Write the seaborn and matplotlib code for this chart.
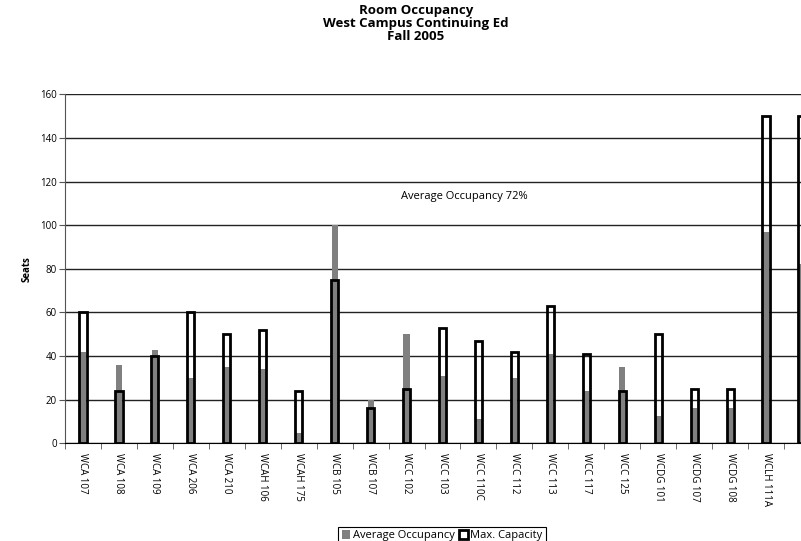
import matplotlib
matplotlib.use("Agg")
import matplotlib.pyplot as plt
import matplotlib.patches as mpatches
import numpy as np
import pandas as pd
import seaborn as sns

rooms = ["WCA 107", "WCA 108", "WCA 109", "WCA 206", "WCA 210", "WCAH 106", "WCAH 175",
         "WCB 105", "WCB 107", "WCC 102", "WCC 103", "WCC 110C", "WCC 112", "WCC 113",
         "WCC 117", "WCC 125", "WCDG 101", "WCDG 107", "WCDG 108", "WCLH 111A", "WCLH 111B"]
avg_occupancy = [42, 36, 43, 30, 35, 34, 4.5, 100, 20, 50, 31, 11, 30, 41, 24, 35, 12.5, 16, 16, 97, 82]
max_capacity = [60, 24, 40, 60, 50, 52, 24, 75, 16, 25, 53, 47, 42, 63, 41, 24, 50, 25, 25, 150, 150]

plt.rcParams["font.family"] = ["Open Sans", "DejaVu Sans"]

df = pd.DataFrame({"Room": rooms,
                   "Average Occupancy": avg_occupancy,
                   "Max. Capacity": max_capacity})

fig = plt.figure(figsize=(8.01, 5.41), dpi=100)
# plot area runs past the right edge of the figure, like the cropped original
ax = fig.add_axes([65 / 801, 1 - 443.3 / 541, 755 / 801, 349 / 541])

sns.barplot(data=df, x="Room", y="Average Occupancy", color="#808080", saturation=1,
            width=0.17, ax=ax, zorder=3)
sns.barplot(data=df, x="Room", y="Max. Capacity", color="black", fill=False,
            width=0.2, linewidth=2, ax=ax, zorder=4)

ax.set_xlim(-0.5, 20.5)
ax.set_ylim(0, 160)
ax.set_yticks(range(0, 161, 20))
ax.yaxis.grid(True, color="#222222", linewidth=1)
ax.set_axisbelow(True)

for side in ["top", "right"]:
    ax.spines[side].set_visible(False)
ax.spines["left"].set_color("#555555")
ax.spines["bottom"].set_color("black")

ax.set_xticks(range(len(rooms)))
ax.set_xticklabels(rooms, rotation=270, fontsize=7)
ax.tick_params(axis="x", length=0, pad=7)
ax.set_xticks(np.arange(-0.5, len(rooms), 1), minor=True)
ax.tick_params(axis="x", which="minor", length=4, color="#555555")
ax.tick_params(axis="y", labelsize=7, length=4, color="#555555", pad=2)

ax.set_xlabel("")
ax.set_ylabel("Seats", fontsize=7, fontweight="bold", labelpad=5)

ax.text(10.6, 113, "Average Occupancy 72%", ha="center", va="center", fontsize=8)

fig.text(416 / 801, 1 - 4 / 541, "Room Occupancy\nWest Campus Continuing Ed\nFall 2005",
         ha="center", va="top", fontsize=9.5, fontweight="bold", linespacing=0.98)

handles = [mpatches.Patch(facecolor="#808080", edgecolor="none"),
           mpatches.Patch(facecolor="white", edgecolor="black", linewidth=2)]
leg = fig.legend(handles, ["Average Occupancy", "Max. Capacity"], loc="upper center",
                 bbox_to_anchor=(442 / 801, 1 - 527 / 541), ncol=2, fontsize=8,
                 frameon=True, fancybox=False, edgecolor="black", framealpha=1,
                 handlelength=0.8, handleheight=0.8, handletextpad=0.2,
                 columnspacing=0.4, borderpad=0.3, borderaxespad=0)
leg.get_frame().set_linewidth(0.8)

fig.savefig("out.png", dpi=100)
